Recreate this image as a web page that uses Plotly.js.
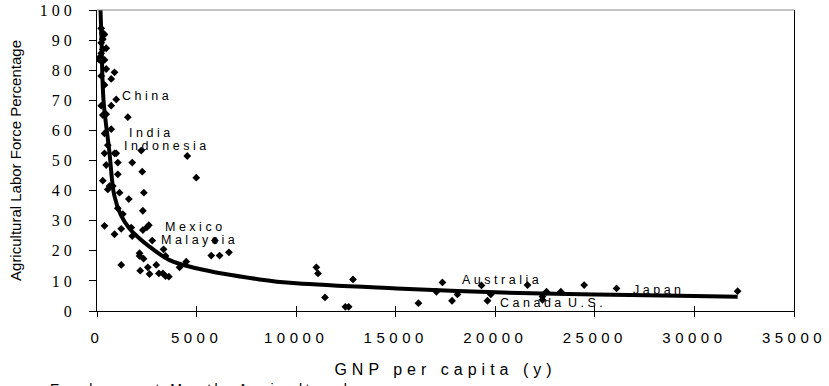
<!DOCTYPE html>
<html>
<head>
<meta charset="utf-8">
<script src="https://cdn.plot.ly/plotly-3.0.1.min.js"></script>
<style>
html,body{margin:0;padding:0;background:#fff;}
#chart{width:829px;height:386px;}
.xtick text{letter-spacing:4.5px;}
.ytick text{letter-spacing:4px;}
.g-xtitle text{letter-spacing:5px;}
.annotation-text{letter-spacing:3.5px;}
</style>
</head>
<body>
<div id="chart"></div>
<script>
// GNP per capita (x) and agricultural labor force percentage (y)
const gnp = [211,291,377,291,211,462,291,211,90,126,377,462,879,714,211,377,965,714,211,291,462,1548,714,377,543,965,377,2221,4533,
  879,1045,462,1769,1045,2271,4985,291,628,794,543,1131,2352,1598,1045,2302,1296,377,1216,879,1718,1769,2302,2503,2603,2774,3342,3442,2136,2136,2337,1216,2169,2553,2638,2975,3108,3309,3442,3610,4146,4481,5920,5737,6155,6625,
  11014,11097,12855,11448,12472,12638,16140,17346,17045,17829,18100,19306,19607,19774,21618,22571,22370,22370,23291,24462,26089,32170];
const agri = [93.9,92.3,91.9,90.3,89.1,87.3,86.9,85.6,84,83.4,83.4,80.4,79.3,77.1,78.1,75.1,70.3,68.2,68.2,65.1,65.4,64.4,60.4,59,55.1,52.4,52.4,53.3,51.5,
  52.4,49.3,48.5,49.3,45.4,46.3,44.3,43.3,41.5,41.5,40.4,39.3,39.3,37.2,34.1,33.3,32.2,28.3,27.3,25.5,27.7,24.9,26.9,27.8,28.5,23.4,20.5,18.3,19.2,18.3,17.4,15.3,13.4,14.5,12.3,15.3,12.5,12.5,11.6,11.4,14.5,16.4,23.4,18.4,18.4,19.5,
  14.5,12.5,10.5,4.5,1.4,1.4,2.6,9.5,6.4,3.4,5.5,8.5,3.4,5.5,8.6,6.4,4.8,3.7,6.4,8.6,7.5,6.6];

// Fitted trend curve
const curveX = [176,226,327,613,864,1196,1618,2121,2538,3643,4985,8166,10010,15035,20010,25000,29974,32170];
const curveY = [100,90,70,53.5,38.5,31.9,27.5,24.2,21.9,16.9,14.2,10.5,9.2,7.5,6.2,5.5,5.0,4.75];

// Country labels
const labelText = ["China","India","Indonesia","Mexico","Malaysia","Australia","Canada","U.S.","Japan"];
const labelX = [1131,1482,1231,3291,3090,18216,20125,23527,26793];
const labelY = [71.4,59.1,54.8,27.9,23.6,10.3,2.8,2.8,7.0];

const xTicks = [0,5000,10000,15000,20000,25000,30000,35000];
const yTicks = [0,10,20,30,40,50,60,70,80,90,100];

const sans = "Liberation Sans, Arial, sans-serif";
const serif = "Liberation Serif, Times New Roman, serif";

const traces = [
  {x: gnp, y: agri, type: 'scatter', mode: 'markers',
   marker: {symbol: 'diamond', size: 6, color: '#000'}, hoverinfo: 'skip'},
  {x: curveX, y: curveY, type: 'scatter', mode: 'lines',
   line: {color: '#000', width: 4, shape: 'spline', smoothing: 1}, hoverinfo: 'skip'},
  {x: [0], y: [0], xaxis: 'x2', type: 'scatter', mode: 'markers', marker: {opacity: 0}, hoverinfo: 'skip'}
];

const annotations = labelText.map((t, i) => ({
  x: labelX[i], y: labelY[i], xref: 'x', yref: 'y', text: t, showarrow: false,
  xanchor: 'left', yanchor: 'middle', font: {family: sans, size: 12.5, color: '#000'}
}));
annotations.push({
  xref: 'paper', yref: 'paper', x: -0.07, y: -0.226, xanchor: 'left', yanchor: 'top',
  text: 'Employment Mostly Agricultural', showarrow: false,
  font: {family: sans, size: 14, color: '#000'}
});

const layout = {
  width: 829, height: 386,
  margin: {l: 97, r: 35, t: 10, b: 75, pad: 0},
  paper_bgcolor: '#fff', plot_bgcolor: '#fff',
  showlegend: false,
  xaxis: {
    range: [0, 35000], tickvals: xTicks, ticktext: xTicks.map(String),
    ticks: 'outside', ticklen: 5, tickcolor: '#000', tickwidth: 1,
    ticklabelstandoff: 8,
    showline: true, linecolor: '#000', linewidth: 1, mirror: false,
    showgrid: false, zeroline: false,
    tickfont: {family: sans, size: 15, color: '#000'},
    title: {text: 'GNP per capita (y)', font: {family: sans, size: 16, color: '#000'}, standoff: 18}
  },
  xaxis2: {
    overlaying: 'x', anchor: 'y', range: [0, 35000], tickvals: xTicks,
    ticks: 'inside', ticklen: 5, tickcolor: '#000', showticklabels: false,
    showgrid: false, zeroline: false, showline: false
  },
  yaxis: {
    range: [0, 100], tickvals: yTicks, ticktext: yTicks.map(String),
    ticks: 'outside', ticklen: 7, tickcolor: '#000', tickwidth: 1,
    ticklabelstandoff: 10,
    showline: true, linecolor: '#000', linewidth: 1, mirror: true,
    showgrid: false, zeroline: false,
    tickfont: {family: serif, size: 16, color: '#000'},
    title: {text: 'Agricultural Labor Force Percentage', font: {family: sans, size: 15, color: '#000'}, standoff: 14}
  },
  shapes: [
    {type: 'line', xref: 'paper', yref: 'paper', x0: 0, x1: 1, y0: 1, y1: 1, line: {color: '#888', width: 1}}
  ],
  annotations: annotations
};

Plotly.newPlot('chart', traces, layout, {staticPlot: true, displayModeBar: false});
</script>
</body>
</html>
